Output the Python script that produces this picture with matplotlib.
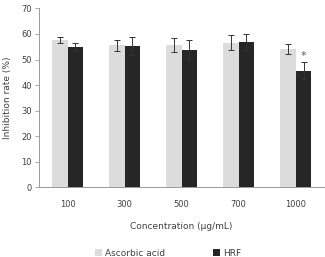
import numpy as np
import matplotlib
matplotlib.use("Agg")
import matplotlib.pyplot as plt

categories = ["100", "300", "500", "700", "1000"]
ascorbic = [57.5, 55.5, 55.7, 56.6, 54.1]
ascorbic_err = [1.2, 2.0, 2.7, 2.9, 2.0]
hrf = [54.8, 55.4, 53.8, 56.9, 45.6]
hrf_err = [1.5, 3.5, 3.7, 3.0, 3.4]

txt = "#404040"
fig = plt.figure(figsize=(3.25, 2.57), dpi=100)
ax = fig.add_axes([0.12, 0.272, 0.877, 0.695])

x = np.arange(len(categories))
w = 0.28
ax.bar(x - w/2, ascorbic, w, color="#dcdcdc", label="Ascorbic acid",
       yerr=ascorbic_err, error_kw=dict(ecolor="#333333", elinewidth=0.7, capsize=2, capthick=0.7))
ax.bar(x + w/2, hrf, w, color="#262626", label="HRF",
       yerr=hrf_err, error_kw=dict(ecolor="#333333", elinewidth=0.7, capsize=2, capthick=0.7))
ax.text(x[-1] + w/2, hrf[-1] + hrf_err[-1] + 2.2, "*", ha="center", va="center",
        fontsize=8, color="#555555")

ax.set_xlim(-0.5, len(categories) - 0.5)
ax.set_ylim(0, 70)
ax.set_yticks(range(0, 71, 10))
ax.set_xticks(x)
ax.set_xticklabels(categories)
ax.tick_params(axis="x", length=0, pad=9, labelsize=6, labelcolor=txt)
ax.tick_params(axis="y", length=3, width=0.6, color="#999999", labelsize=6, labelcolor=txt, pad=2)
for s in ["top", "right"]:
    ax.spines[s].set_visible(False)
for s in ["left", "bottom"]:
    ax.spines[s].set_color("#999999")
    ax.spines[s].set_linewidth(0.7)

ax.set_ylabel("Inhibition rate (%)", fontsize=6.5, color=txt, labelpad=7)
ax.set_xlabel("Concentration (μg/mL)", fontsize=6.5, color=txt, labelpad=10)

fig.legend(loc="lower center", bbox_to_anchor=(0.517, -0.035), ncol=2, frameon=False,
           fontsize=6.5, labelcolor=txt, handlelength=0.8, handleheight=0.8,
           handletextpad=0.3, columnspacing=5.3)

fig.savefig("out.png", dpi=100)
